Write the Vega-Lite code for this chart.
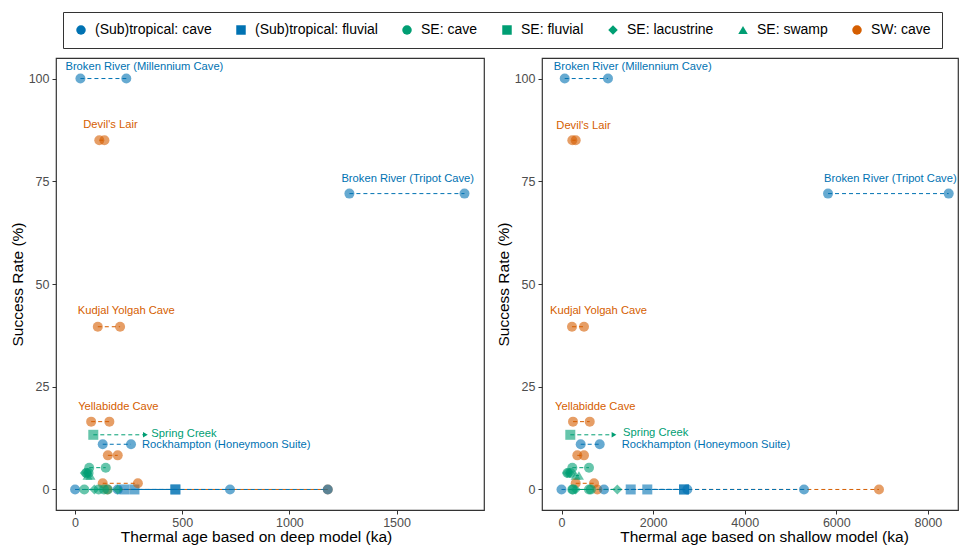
{
  "$schema": "https://vega.github.io/schema/vega-lite/v6.json",
  "background": "white",
  "padding": {"left": 9, "top": 11, "right": 0, "bottom": 0},
  "datasets": {
    "sites": [
      {"site": "Broken River (Millennium Cave)", "group": "(Sub)tropical: cave", "rate": 100, "deep_min": 25, "deep_max": 239, "shallow_min": 70, "shallow_max": 1015, "open": false},
      {"site": "Devil's Lair", "group": "SW: cave", "rate": 85, "deep_min": 113, "deep_max": 137, "shallow_min": 236, "shallow_max": 310, "open": false},
      {"site": "Broken River (Tripot Cave)", "group": "(Sub)tropical: cave", "rate": 72, "deep_min": 1280, "deep_max": 1817, "shallow_min": 5819, "shallow_max": 8454, "open": false},
      {"site": "Kudjal Yolgah Cave", "group": "SW: cave", "rate": 39.6, "deep_min": 106, "deep_max": 210, "shallow_min": 229, "shallow_max": 491, "open": false},
      {"site": "Yellabidde Cave", "group": "SW: cave", "rate": 16.5, "deep_min": 75, "deep_max": 160, "shallow_min": 251, "shallow_max": 616, "open": false},
      {"site": "Spring Creek", "group": "SE: fluvial", "rate": 13.3, "deep_min": 85, "deep_max": 328, "shallow_min": 192, "shallow_max": 1146, "open": true},
      {"site": "Rockhampton (Honeymoon Suite)", "group": "(Sub)tropical: cave", "rate": 11, "deep_min": 129, "deep_max": 261, "shallow_min": 419, "shallow_max": 834, "open": false},
      {"site": "SW site A", "group": "SW: cave", "rate": 8.3, "deep_min": 153, "deep_max": 199, "shallow_min": 345, "shallow_max": 491, "open": false},
      {"site": "SE cave A", "group": "SE: cave", "rate": 5.3, "deep_min": 66, "deep_max": 143, "shallow_min": 236, "shallow_max": 600, "open": false},
      {"site": "SE cave B", "group": "SE: cave", "rate": 4.0, "deep_min": 52, "deep_max": 63, "shallow_min": 130, "shallow_max": 200, "open": false},
      {"site": "SE lake A", "group": "SE: lacustrine", "rate": 4.0, "deep_min": 45, "deep_max": 58, "shallow_min": 120, "shallow_max": 180, "open": false},
      {"site": "SE swamp A", "group": "SE: swamp", "rate": 3.4, "deep_min": 58, "deep_max": 72, "shallow_min": 310, "shallow_max": 380, "open": false},
      {"site": "SW site B", "group": "SW: cave", "rate": 1.5, "deep_min": 129, "deep_max": 293, "shallow_min": 310, "shallow_max": 710, "open": false},
      {"site": "SW site C", "group": "SW: cave", "rate": 0, "deep_min": 150, "deep_max": 1179, "shallow_min": 782, "shallow_max": 6932, "open": false},
      {"site": "Trop cave A", "group": "(Sub)tropical: cave", "rate": 0, "deep_min": 0, "deep_max": 723, "shallow_min": 0, "shallow_max": 2747, "open": false},
      {"site": "Trop cave B", "group": "(Sub)tropical: cave", "rate": 0, "deep_min": 199, "deep_max": 1179, "shallow_min": 928, "shallow_max": 5295, "open": false},
      {"site": "Trop fluvial A", "group": "(Sub)tropical: fluvial", "rate": 0, "deep_min": 230, "deep_max": 468, "shallow_min": 1511, "shallow_max": 2675, "open": false},
      {"site": "Trop fluvial B", "group": "(Sub)tropical: fluvial", "rate": 0, "deep_min": 277, "deep_max": 468, "shallow_min": 1873, "shallow_max": 2675, "open": false},
      {"site": "SE cave C", "group": "SE: cave", "rate": 0, "deep_min": 43, "deep_max": 153, "shallow_min": 236, "shallow_max": 600, "open": false},
      {"site": "SE cave D", "group": "SE: cave", "rate": 0, "deep_min": 110, "deep_max": 135, "shallow_min": 250, "shallow_max": 640, "open": false},
      {"site": "SE lake B", "group": "SE: lacustrine", "rate": 0, "deep_min": 90, "deep_max": 199, "shallow_min": 310, "shallow_max": 1218, "open": false}
    ]
  },
  "data": {"name": "sites"},
  "config": {
    "font": "Liberation Sans",
    "view": {"stroke": "#333333", "strokeWidth": 1.2},
    "axis": {"grid": false, "domain": false, "tickColor": "#333333", "tickSize": 4, "labelColor": "#4D4D4D", "labelFontSize": 12.5, "titleFontSize": 15.5, "titleFontWeight": "normal", "titleColor": "#000000", "labelPadding": 3, "titlePadding": 3},
    "axisX": {"labelPadding": 2, "titlePadding": 1},
    "text": {"baseline": "middle", "fontSize": 11.2},
    "legend": {"orient": "none", "legendX": 7, "legendY": -46, "direction": "horizontal", "title": null, "strokeColor": "#333333", "padding": 11, "symbolSize": 90, "symbolOpacity": 1, "symbolStrokeWidth": 0, "labelFontSize": 14, "labelColor": "#000000", "columnPadding": 22, "labelOffset": 7}
  },
  "resolve": {"scale": {"color": "shared", "shape": "shared", "x": "independent", "y": "independent"}, "legend": {"color": "shared", "shape": "shared"}},
  "spacing": 10,
  "hconcat": [
    {
      "width": 428,
      "height": 452,
      "encoding": {
        "y": {"field": "rate", "type": "quantitative", "scale": {"domain": [-5, 105], "nice": false, "zero": false}, "axis": {"values": [0, 25, 50, 75, 100], "title": "Success Rate (%)"}},
        "color": {"field": "group", "type": "nominal", "title": null, "scale": {"domain": ["(Sub)tropical: cave", "(Sub)tropical: fluvial", "SE: cave", "SE: fluvial", "SE: lacustrine", "SE: swamp", "SW: cave"], "range": ["#0072B2", "#0072B2", "#009E73", "#009E73", "#009E73", "#009E73", "#D55E00"]}}
      },
      "layer": [
        {
          "mark": {"type": "rule", "strokeDash": [4, 3], "strokeWidth": 1},
          "encoding": {
            "x": {"field": "deep_min", "type": "quantitative", "scale": {"domain": [-89, 1908], "nice": false, "zero": false}, "axis": {"values": [0, 500, 1000, 1500], "format": "d", "title": "Thermal age based on deep model (ka)", "titleX": 200}},
            "x2": {"field": "deep_max"}
          }
        },
        {
          "mark": {"type": "point", "filled": true, "opacity": 0.6, "size": 100},
          "encoding": {
            "x": {"field": "deep_min", "type": "quantitative"},
            "shape": {"field": "group", "type": "nominal", "title": null, "scale": {"domain": ["(Sub)tropical: cave", "(Sub)tropical: fluvial", "SE: cave", "SE: fluvial", "SE: lacustrine", "SE: swamp", "SW: cave"], "range": ["circle", "square", "circle", "square", "diamond", "triangle-up", "circle"]}}
          }
        },
        {
          "transform": [{"filter": "!datum.open"}],
          "mark": {"type": "point", "filled": true, "opacity": 0.6, "size": 100},
          "encoding": {"x": {"field": "deep_max", "type": "quantitative"}, "shape": {"field": "group", "type": "nominal"}}
        },
        {
          "transform": [{"filter": "datum.open"}],
          "mark": {"type": "point", "filled": true, "opacity": 1, "size": 30, "shape": "triangle-right"},
          "encoding": {"x": {"field": "deep_max", "type": "quantitative"}}
        },
        {"transform": [{"filter": "datum.site == 'Broken River (Millennium Cave)'"}], "mark": {"type": "text", "align": "left", "dx": -15, "dy": -12}, "encoding": {"x": {"field": "deep_min", "type": "quantitative"}, "text": {"field": "site"}}},
        {"transform": [{"filter": "datum.site == \"Devil's Lair\""}], "mark": {"type": "text", "align": "left", "dx": -16, "dy": -15}, "encoding": {"x": {"field": "deep_min", "type": "quantitative"}, "text": {"field": "site"}}},
        {"transform": [{"filter": "datum.site == 'Broken River (Tripot Cave)'"}], "mark": {"type": "text", "align": "left", "dx": -8, "dy": -15}, "encoding": {"x": {"field": "deep_min", "type": "quantitative"}, "text": {"field": "site"}}},
        {"transform": [{"filter": "datum.site == 'Kudjal Yolgah Cave'"}], "mark": {"type": "text", "align": "left", "dx": -20, "dy": -16}, "encoding": {"x": {"field": "deep_min", "type": "quantitative"}, "text": {"field": "site"}}},
        {"transform": [{"filter": "datum.site == 'Yellabidde Cave'"}], "mark": {"type": "text", "align": "left", "dx": -13, "dy": -15}, "encoding": {"x": {"field": "deep_min", "type": "quantitative"}, "text": {"field": "site"}}},
        {"transform": [{"filter": "datum.site == 'Spring Creek'"}], "mark": {"type": "text", "align": "left", "dx": 6, "dy": -1}, "encoding": {"x": {"field": "deep_max", "type": "quantitative"}, "text": {"field": "site"}}},
        {"transform": [{"filter": "datum.site == 'Rockhampton (Honeymoon Suite)'"}], "mark": {"type": "text", "align": "left", "dx": 11, "dy": 1}, "encoding": {"x": {"field": "deep_max", "type": "quantitative"}, "text": {"field": "site"}}}
      ]
    },
    {
      "width": 416,
      "height": 452,
      "encoding": {
        "y": {"field": "rate", "type": "quantitative", "scale": {"domain": [-5, 105], "nice": false, "zero": false}, "axis": {"values": [0, 25, 50, 75, 100], "title": "Success Rate (%)"}},
        "color": {"field": "group", "type": "nominal", "title": null}
      },
      "layer": [
        {
          "mark": {"type": "rule", "strokeDash": [4, 3], "strokeWidth": 1},
          "encoding": {
            "x": {"field": "shallow_min", "type": "quantitative", "scale": {"domain": [-426, 8657], "nice": false, "zero": false}, "axis": {"values": [0, 2000, 4000, 6000, 8000], "format": "d", "title": "Thermal age based on shallow model (ka)", "titleX": 222}},
            "x2": {"field": "shallow_max"}
          }
        },
        {
          "mark": {"type": "point", "filled": true, "opacity": 0.6, "size": 100},
          "encoding": {"x": {"field": "shallow_min", "type": "quantitative"}, "shape": {"field": "group", "type": "nominal"}}
        },
        {
          "transform": [{"filter": "!datum.open"}],
          "mark": {"type": "point", "filled": true, "opacity": 0.6, "size": 100},
          "encoding": {"x": {"field": "shallow_max", "type": "quantitative"}, "shape": {"field": "group", "type": "nominal"}}
        },
        {
          "transform": [{"filter": "datum.open"}],
          "mark": {"type": "point", "filled": true, "opacity": 1, "size": 30, "shape": "triangle-right"},
          "encoding": {"x": {"field": "shallow_max", "type": "quantitative"}}
        },
        {"transform": [{"filter": "datum.site == 'Broken River (Millennium Cave)'"}], "mark": {"type": "text", "align": "left", "dx": -11, "dy": -12}, "encoding": {"x": {"field": "shallow_min", "type": "quantitative"}, "text": {"field": "site"}}},
        {"transform": [{"filter": "datum.site == \"Devil's Lair\""}], "mark": {"type": "text", "align": "left", "dx": -16, "dy": -14}, "encoding": {"x": {"field": "shallow_min", "type": "quantitative"}, "text": {"field": "site"}}},
        {"transform": [{"filter": "datum.site == 'Broken River (Tripot Cave)'"}], "mark": {"type": "text", "align": "left", "dx": -4, "dy": -15}, "encoding": {"x": {"field": "shallow_min", "type": "quantitative"}, "text": {"field": "site"}}},
        {"transform": [{"filter": "datum.site == 'Kudjal Yolgah Cave'"}], "mark": {"type": "text", "align": "left", "dx": -22, "dy": -16}, "encoding": {"x": {"field": "shallow_min", "type": "quantitative"}, "text": {"field": "site"}}},
        {"transform": [{"filter": "datum.site == 'Yellabidde Cave'"}], "mark": {"type": "text", "align": "left", "dx": -18, "dy": -15}, "encoding": {"x": {"field": "shallow_min", "type": "quantitative"}, "text": {"field": "site"}}},
        {"transform": [{"filter": "datum.site == 'Spring Creek'"}], "mark": {"type": "text", "align": "left", "dx": 9, "dy": -2}, "encoding": {"x": {"field": "shallow_max", "type": "quantitative"}, "text": {"field": "site"}}},
        {"transform": [{"filter": "datum.site == 'Rockhampton (Honeymoon Suite)'"}], "mark": {"type": "text", "align": "left", "dx": 22, "dy": 1}, "encoding": {"x": {"field": "shallow_max", "type": "quantitative"}, "text": {"field": "site"}}}
      ]
    }
  ]
}
